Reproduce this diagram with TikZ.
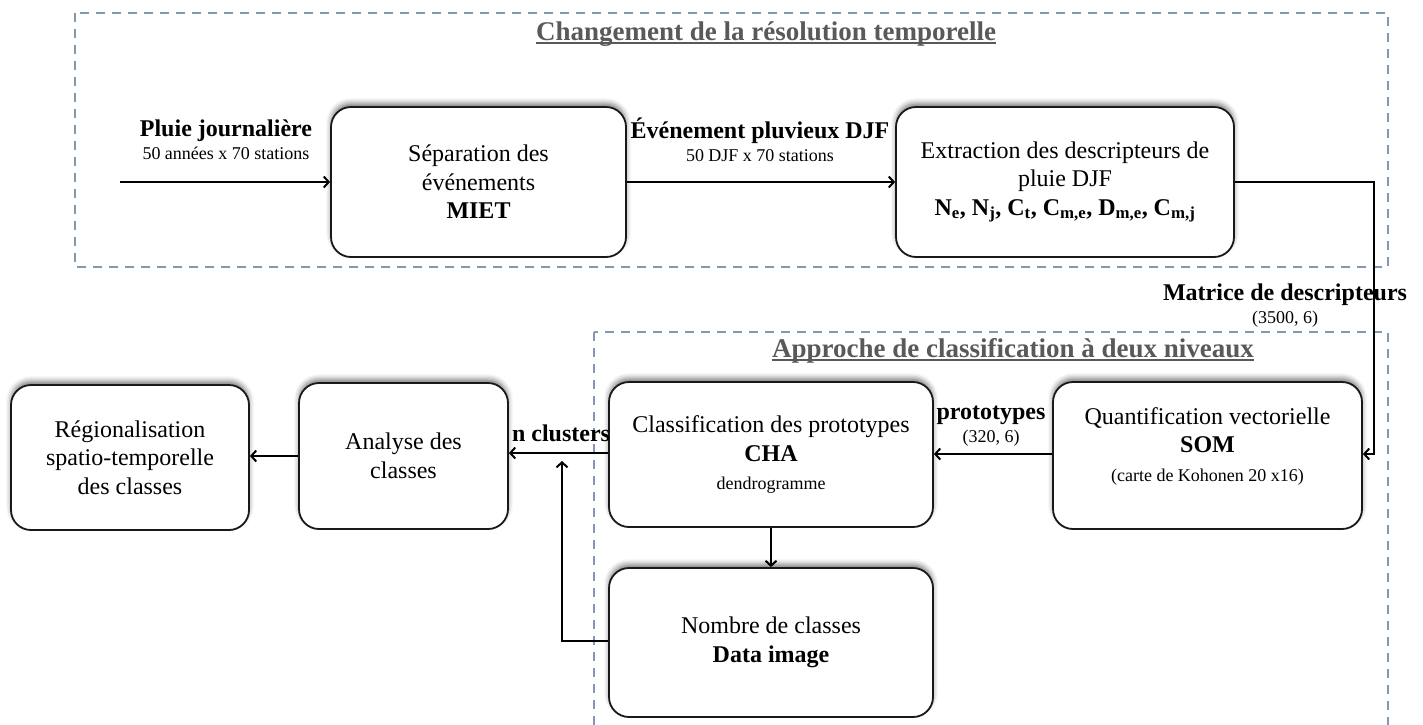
\documentclass[tikz,border=0pt]{standalone}
\usepackage{fontspec}
\setmainfont{Liberation Serif}
\usetikzlibrary{arrows.meta,shadows.blur,calc}
\definecolor{dashblue}{HTML}{8497B0}
\definecolor{titlegray}{HTML}{595959}
\newcommand{\smtxt}{\fontsize{18}{21}\selectfont}
\begin{document}
\begin{tikzpicture}[x=1pt,y=-1pt,
  box/.style={draw=black!90, line width=1.8pt, rounded corners=20pt, fill=white, align=center, inner sep=0pt,
    font=\fontsize{24}{28.5}\selectfont,
    blur shadow={shadow xshift=0pt, shadow yshift=4pt, shadow blur radius=5pt, shadow opacity=50}},
  group/.style={draw=dashblue, line width=2pt, dash pattern=on 9pt off 7pt},
  conn/.style={line width=2pt, -{Straight Barb[length=5pt,width=11pt,line width=2pt]}},
  lbl/.style={align=center, inner sep=0pt, font=\fontsize{24}{25}\selectfont},
  gtitle/.style={inner sep=0pt, anchor=base, text=titlegray, font=\fontsize{27}{30}\selectfont\bfseries},
  uline/.style={draw=titlegray, line width=2pt}
]
\useasboundingbox (0,0) rectangle (1423,724);
\clip (0,0) rectangle (1423,724);

% groups
\draw[group] (75,13) rectangle (1388,267);
\draw[group] (594,332) rectangle (1388,740);

\node[gtitle] (t1) at (766,40) {Changement de la résolution temporelle};
\draw[uline] ([yshift=-3pt]t1.base west) -- ([yshift=-3pt]t1.base east);
\node[gtitle] (t2) at (1013,357) {Approche de classification à deux niveaux};
\draw[uline] ([yshift=-3pt]t2.base west) -- ([yshift=-3pt]t2.base east);

% boxes
\node[box, minimum width=295pt, minimum height=150pt] (miet) at (478.5,182)
  {Séparation des\\événements\\\textbf{MIET}};
\node[box, minimum width=338pt, minimum height=150pt] (ext) at (1065,182)
  {Extraction des descripteurs de\\pluie DJF\\\textbf{N\textsubscript{e}, N\textsubscript{j}, C\textsubscript{t}, C\textsubscript{m,e}, D\textsubscript{m,e}, C\textsubscript{m,j}}};
\node[box, minimum width=309pt, minimum height=147pt] (som) at (1207.5,455.5)
  {Quantification vectorielle\\\textbf{SOM}\\{\smtxt (carte de Kohonen 20 x16)}\\[-6pt]\mbox{}};
\node[box, minimum width=324pt, minimum height=145pt] (cla) at (771,454.5)
  {Classification des prototypes\\\textbf{CHA}\\{\smtxt dendrogramme}};
\node[box, minimum width=324pt, minimum height=149pt] (nom) at (771,642.5)
  {Nombre de classes\\\textbf{Data image}};
\node[box, minimum width=209pt, minimum height=146pt] (ana) at (403.5,456)
  {Analyse des\\classes};
\node[box, minimum width=238pt, minimum height=145pt] (reg) at (130,457.5)
  {Régionalisation\\spatio-temporelle\\des classes};

% labels
\node[lbl] (l1) at (226,140) {\textbf{Pluie journalière}\\[-2pt]{\smtxt 50 années x 70 stations}};
\node[lbl] (l2) at (760,140) {\textbf{Événement pluvieux DJF}\\[-2pt]{\smtxt 50 DJF x 70 stations}};
\node[lbl] (l3) at (991,426) {\textbf{prototypes}\\[-2pt]{\smtxt (320, 6)}};
\node[lbl] (l4) at (561,433) {\textbf{n clusters}};

% connectors
\coordinate (in) at (120,182);
\draw[conn] (in) -- (miet.west);
\draw[conn] (miet.east) -- (ext.west);
\coordinate (c1) at (1374,182);
\coordinate (c2) at (1374,454);
\draw[conn] (ext.east) -- (c1) -- (c2) -- (c2 -| som.east);
\node[lbl] (l5) at (1285,306) {\textbf{Matrice de descripteurs}\\[-2pt]{\smtxt (3500, 6)}};
\coordinate (c3) at (1000,454);
\draw[conn] (c3 -| som.west) -- (c3 -| cla.east);
\coordinate (c4) at (600,453);
\draw[conn] (c4 -| cla.west) -- (c4 -| ana.east);
\coordinate (c5) at (300,456);
\draw[conn] (c5 -| ana.west) -- (c5 -| reg.east);
\draw[conn] (cla.south) -- (nom.north);
\coordinate (c6) at (562,641);
\coordinate (up) at (562,461);
\draw[conn] (c6 -| nom.west) -- (c6) -- (up);
\end{tikzpicture}
\end{document}
